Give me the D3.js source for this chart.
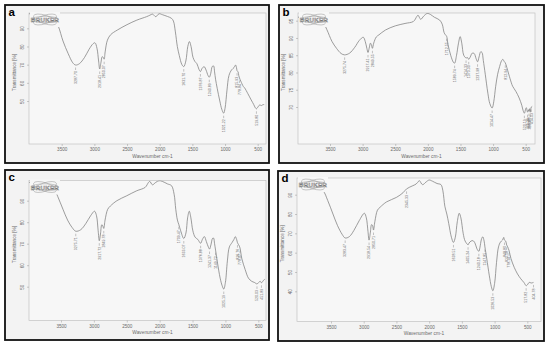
<!DOCTYPE html>
<html><head><meta charset="utf-8">
<script src="https://cdn.jsdelivr.net/npm/d3@7"></script>
<style>body{margin:0;background:#fff}svg{display:block}</style>
</head><body><svg id="chart" width="550" height="348"></svg>
<script>
// ---------------- DATA ----------------
const xTickValues = [3500, 3000, 2500, 2000, 1500, 1000, 500];
const yTicksA = [50, 60, 70, 80, 90];
const yTicksB = [70, 75, 80, 85, 90, 95];
const yTicksC = [50, 60, 70, 80, 90];
const yTicksD = [40, 50, 60, 70, 80, 90];

const wavenumberA = [4000,3800,3700,3620,3550,3480,3400,3330,3287.7,3230,3150,3080,3020,2990,2960,2935,2918.41,2900,2880,2865,2850.07,2835,2800,2750,2650,2500,2350,2200,2150,2110,2060,2010,1960,1880,1820,1790,1760,1730,1700,1660,1631.7,1600,1570,1545,1520,1490,1460,1430,1400,1376.87,1350,1320,1290,1260,1240.89,1220,1195,1175,1160,1145,1120,1080,1050,1021.22,1000,970,940,900,860,840,825,815.93,800,790,778.84,760,720,700,650,600,560,540,519.8,500,470,440,420,400];
const transmittanceA = [98,98,97.5,96,91,83,76,71,69.8,70.5,74,78.5,81.5,82,79,72,67.6,71,74.4,74,73,77,83.5,86.5,89,92,94.5,96.4,97.2,97.8,96.4,98,97.5,96.5,95.5,94,88,80,75,70,68.9,72,80,82.7,80,74,71.7,70.5,67.5,66.2,68,68.9,67,64,63.1,65,69,69.3,66,62,57,50,45.5,43.3,46,56,64,67.1,68.5,69.8,68.5,66.7,66,64,62.7,61,58,57.2,54,50.6,48,46.5,45.7,46.5,47.8,47.5,48,48];
const peaksA = [3287.70,2918.41,2850.07,1631.70,1376.87,1240.89,1021.22,815.93,778.84,519.80];

const wavenumberB = [4000,3800,3700,3620,3550,3470,3400,3330,3275.74,3200,3120,3050,2990,2960,2935,2917.41,2900,2880,2865,2849.55,2830,2790,2750,2650,2500,2350,2220,2170,2150,2110,2060,2010,1960,1900,1820,1780,1750,1730,1712.55,1690,1650,1610,1589.74,1560,1530,1505,1480,1450,1414.33,1390,1373.3,1350,1320,1290,1260,1237.98,1215,1190,1170,1150,1120,1080,1050,1014.47,990,960,930,900,870,850,830,812.94,790,760,720,700,650,600,560,540,520.19,500,490,471.25,455,449.89,440,430.87,414.03,400];
const transmittanceB = [96,96,95.6,95,92.5,89,87,85.5,85.1,85.6,87.3,89.3,90.2,89,87,85.8,87,88.5,88,87,88.5,90.3,90.9,92.3,93.5,94.2,94.8,96.2,96.6,95.4,96.4,97.1,96.8,96,95.2,94,91.5,90.9,90.5,88,85,83,82.7,85,88.5,90.4,88.5,85,84.2,84.3,83.8,84.5,85.6,85.5,84,83.1,84.5,86,85.8,83.5,79.5,74,71,69.7,71.5,76,79.5,81.7,83.4,83.8,83.2,82.8,81.5,79.5,77,76,74.5,72.6,70.5,69,68.2,69.5,69.8,68.5,69.2,68.8,69.5,68.5,70,70.2];
const peaksB = [3275.74,2917.41,2849.55,1712.55,1589.74,1414.33,1373.30,1237.98,1014.47,812.94,520.19,471.25,449.89,430.87,414.03];

const wavenumberC = [4000,3800,3700,3620,3550,3470,3400,3330,3275.71,3200,3120,3050,2990,2960,2935,2917.72,2900,2880,2865,2849.78,2830,2790,2750,2650,2500,2350,2220,2170,2150,2110,2060,2010,1960,1880,1820,1780,1755,1730,1709.47,1680,1633.07,1600,1575,1550,1525,1495,1460,1420,1376.88,1350,1320,1290,1260,1241.37,1220,1195,1180,1165,1149.72,1120,1080,1050,1025.19,1000,970,940,900,870,850,830,816.76,800,790,778.07,750,700,650,600,560,520.03,500,470,451.89,420,400];
const transmittanceC = [98.5,98.5,98,96.5,92,86,81,77.5,75.8,76.5,79.5,83,85.1,83,76,71.4,74.5,78.8,78.3,77.1,81,86,87.5,90,92.3,94.6,96.2,98.5,99,97.4,98.5,99.3,99,97.8,97,93,86,81,79,76,72.4,75,82,85.1,82,76,73,72,70.2,72,73.3,71,68.5,67.5,69.5,72.5,72.6,70,67,61,54,50.5,48.9,52,62,68.5,70.5,72,73.3,72,70.5,69.5,69,68,63,58,54,52.5,52,51.3,51.8,52.5,51.8,53,53.5];
const peaksC = [3275.71,2917.72,2849.78,1709.47,1633.07,1376.88,1241.37,1149.72,1025.19,816.76,778.07,520.03,451.89];

const wavenumberD = [4000,3800,3700,3620,3550,3470,3400,3330,3283.47,3220,3150,3070,2990,2960,2935,2918.54,2900,2880,2865,2850.71,2830,2790,2750,2650,2500,2400,2345.33,2260,2200,2160,2150,2100,2050,2000,1950,1880,1820,1790,1760,1730,1700,1660,1628.51,1600,1570,1540,1515,1480,1450,1405.24,1390,1360,1330,1300,1270,1240.18,1225,1200,1180,1160,1147.85,1120,1080,1050,1026.53,1000,970,940,910,880,860,848.8,830,815.58,800,778.14,750,700,650,600,550,517.82,500,470,440,404.78];
const transmittanceD = [94,94,93.5,92,87,80,74,69.5,67.6,68.3,71.5,76.5,80.4,78,71,66.5,70,74.5,74,71.7,76,82,83.5,86.3,88.6,91,93,94.5,95.5,97,97.3,95.2,96.5,97.6,97,95.8,95.2,92,84,80,75,68,65.3,68,76,80.4,78,70,66,64.1,65,66,66.2,65,62,60.7,62.5,67,68.2,66,63,57,48,42.5,40.3,44,55,63,65.5,66.5,67.9,66.5,66,64,63,61,57,52.4,49,46.5,44.5,42.9,43.3,44.6,44.3,44.6];
const peaksD = [3283.47,2918.54,2850.71,2345.33,1628.51,1405.24,1240.18,1147.85,1026.53,848.80,815.58,778.14,517.82,404.78];

const panelLetters = ["a", "b", "c", "d"];
const xAxisTitle = "Wavenumber cm-1";
const yAxisTitle = "Transmittance [%]";
const logoText = "BRUKER";

// ---------------- LAYOUT ----------------
const panels = [
  {letter: panelLetters[0], box: [5, 5, 264, 158], frame: [29, 13, 266, 144], xPix: [61.7, 257.7], yDom: [50, 90], yPix: [101, 28.3], yTicks: yTicksA, wn: wavenumberA, tr: transmittanceA, peaks: peaksA},
  {letter: panelLetters[1], box: [279, 5, 265, 158], frame: [298, 13, 535, 144], xPix: [330, 525.7], yDom: [70, 95], yPix: [107, 20.7], yTicks: yTicksB, wn: wavenumberB, tr: transmittanceB, peaks: peaksB},
  {letter: panelLetters[2], box: [5, 170, 264, 170], frame: [29, 180.5, 266, 320.5], xPix: [61, 258.3], yDom: [50, 90], yPix: [286.7, 200.7], yTicks: yTicksC, wn: wavenumberC, tr: transmittanceC, peaks: peaksC},
  {letter: panelLetters[3], box: [278, 171, 266, 170], frame: [297, 178, 541, 321.5], xPix: [331, 527.3], yDom: [40, 90], yPix: [291.3, 194.7], yTicks: yTicksD, wn: wavenumberD, tr: transmittanceD, peaks: peaksD}
];

const svg = d3.select("#chart");
const textColor = "#6a6a6a";
const curveColor = "#7d7d7d";
const fontFam = "'Liberation Sans', Arial, sans-serif";

panels.forEach((p, i) => {
  const [bx, by, bw, bh] = p.box;
  const [fl, ft, fr, fb] = p.frame;
  const g = svg.append("g");

  g.append("rect").attr("x", bx).attr("y", by).attr("width", bw).attr("height", bh)
    .attr("fill", "#f3f3f3").attr("stroke", "#111").attr("stroke-width", 1.8);

  g.append("rect").attr("x", fl).attr("y", ft).attr("width", fr - fl).attr("height", fb - ft)
    .attr("fill", "#f7f7f7").attr("stroke", "#c2c2c2").attr("stroke-width", 0.7);

  const x = d3.scaleLinear().domain([3500, 500]).range(p.xPix);
  const y = d3.scaleLinear().domain(p.yDom).range(p.yPix);

  // X axis
  const xa = g.append("g").attr("transform", `translate(0,${fb})`)
    .call(d3.axisBottom(x).tickValues(xTickValues).tickSize(2).tickPadding(2).tickFormat(d3.format("d")));
  xa.select(".domain").remove();
  xa.selectAll("line").attr("stroke", "#999").attr("stroke-width", 0.5);
  xa.selectAll("text").attr("font-size", 4.6).attr("fill", textColor).attr("font-family", fontFam);

  g.append("text").attr("x", (fl + fr) / 2 + 5).attr("y", fb + 13.5)
    .attr("text-anchor", "middle").attr("font-size", 4.8).attr("fill", textColor)
    .attr("font-family", fontFam).text(xAxisTitle);

  // Y axis
  const ya = g.append("g").attr("transform", `translate(${fl},0)`)
    .call(d3.axisLeft(y).tickValues(p.yTicks).tickSize(2).tickFormat(d3.format("d")));
  ya.select(".domain").remove();
  ya.selectAll("line").attr("stroke", "#999").attr("stroke-width", 0.5);
  ya.selectAll("text").attr("font-size", 4.6).attr("fill", textColor).attr("font-family", fontFam)
    .attr("x", 0).attr("y", 0).attr("dy", "0.35em").attr("text-anchor", "middle")
    .attr("transform", "translate(-6.5,0) rotate(-90)");

  g.append("text").attr("transform", `translate(${fl - 14.5},${(ft + fb) / 2 - 6}) rotate(-90)`)
    .attr("text-anchor", "middle").attr("dy", "0.35em").attr("font-size", 4.6).attr("fill", textColor)
    .attr("font-family", fontFam).text(yAxisTitle);

  // Spectrum
  const pts = p.wn.map((w, k) => ({w: w, t: p.tr[k]}));
  const clipId = "clip" + i;
  g.append("clipPath").attr("id", clipId).append("rect")
    .attr("x", fl).attr("y", ft).attr("width", fr - fl).attr("height", fb - ft);
  const line = d3.line().x(d => x(d.w)).y(d => y(d.t)).curve(d3.curveCatmullRom.alpha(0.5));
  g.append("path").datum(pts).attr("d", line).attr("fill", "none")
    .attr("stroke", curveColor).attr("stroke-width", 0.75).attr("clip-path", `url(#${clipId})`);

  // Peak labels
  const asc = pts.slice().sort((a, b) => a.w - b.w);
  const bis = d3.bisector(d => d.w).left;
  const valueAt = w => {
    let k = bis(asc, w);
    if (k <= 0) return asc[0].t;
    if (k >= asc.length) return asc[asc.length - 1].t;
    const a = asc[k - 1], b = asc[k];
    return a.t + (b.t - a.t) * (w - a.w) / (b.w - a.w);
  };
  p.peaks.forEach(pk => {
    const px = x(pk), py = y(valueAt(pk));
    g.append("line").attr("x1", px).attr("x2", px).attr("y1", py + 2.5).attr("y2", py + 5)
      .attr("stroke", "#888").attr("stroke-width", 0.5);
    g.append("text").attr("transform", `translate(${px},${py + 6}) rotate(-90)`)
      .attr("text-anchor", "end").attr("dy", "0.35em").attr("font-size", 3.6).attr("fill", textColor)
      .attr("font-family", fontFam).text(d3.format(".2f")(pk));
  });

  // Bruker logo
  const lg = g.append("g").attr("transform", `translate(${fl + 1},${ft - 1})`);
  lg.append("rect").attr("x", 0).attr("y", 0).attr("width", 30).attr("height", 15).attr("fill", "#f7f7f7");
  [[-18], [18], [0]].forEach(([ang]) => {
    lg.append("ellipse").attr("cx", 15).attr("cy", 7.5).attr("rx", ang === 0 ? 13.5 : 12)
      .attr("ry", ang === 0 ? 3.2 : 4.2)
      .attr("transform", `rotate(${ang},15,7.5)`).attr("fill", "none")
      .attr("stroke", "#999").attr("stroke-width", 0.5);
  });
  lg.append("text").attr("x", 15).attr("y", 10).attr("text-anchor", "middle")
    .attr("font-size", 6.2).attr("font-weight", "bold").attr("letter-spacing", 0.3)
    .attr("fill", "#f7f7f7").attr("stroke", "#777").attr("stroke-width", 0.45)
    .attr("font-family", fontFam).text(logoText);

  // panel letter
  g.append("text").attr("x", bx + 3.5).attr("y", by + 10.5).attr("font-size", 11.5)
    .attr("font-weight", "bold").attr("fill", "#000").attr("font-family", fontFam).text(p.letter);
});
</script></body></html>
